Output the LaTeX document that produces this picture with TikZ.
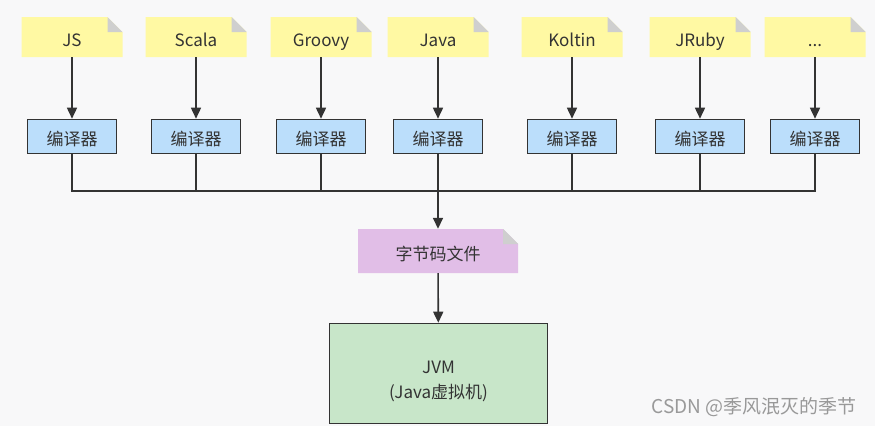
\documentclass[tikz,border=0pt]{standalone}
\usepackage{fontspec}
\setmainfont{Noto Sans CJK SC}
\usetikzlibrary{arrows.meta,positioning}

\definecolor{bgcol}{HTML}{F8F8F9}
\definecolor{inkcol}{HTML}{333333}
\definecolor{notecol}{HTML}{FFF9A3}
\definecolor{foldcol}{HTML}{CFCFCF}
\definecolor{compcol}{HTML}{BBDEFB}
\definecolor{bytecol}{HTML}{E1BEE7}
\definecolor{jvmcol}{HTML}{C8E6C9}

\newcommand{\moredots}{...}

\tikzset{
  notebox/.style={inner sep=0pt, minimum width=101pt, minimum height=40pt,
    text=inkcol, font=\fontsize{17}{20}\selectfont, text height=18pt, text depth=0pt,
    path picture={
      \fill[#1] (path picture bounding box.south west)
        -- (path picture bounding box.north west)
        -- ([xshift=-15pt]path picture bounding box.north east)
        -- ([yshift=-15pt]path picture bounding box.north east)
        -- (path picture bounding box.south east) -- cycle;
      \fill[foldcol] ([xshift=-15pt]path picture bounding box.north east)
        -- ([xshift=-15pt,yshift=-15pt]path picture bounding box.north east)
        -- ([yshift=-15pt]path picture bounding box.north east) -- cycle;
    }},
  notebox/.default=notecol,
  compbox/.style={draw=inkcol, line width=1.6pt, fill=compcol, text=inkcol,
    minimum width=89pt, minimum height=34pt, inner sep=0pt,
    font=\fontsize{17}{20}\selectfont, text height=18pt, text depth=0pt},
  jvmbox/.style={draw=inkcol, line width=1.6pt, fill=jvmcol, text=inkcol,
    minimum width=218pt, minimum height=100pt, inner sep=0pt,
    font=\fontsize{17}{25}\selectfont, text height=30pt, text depth=7pt},
  flow/.style={draw=inkcol, line width=1.6pt, -{Triangle[length=11pt,width=10pt]}},
  bus/.style={draw=inkcol, line width=1.6pt}
}

\begin{document}
\begin{tikzpicture}[x=1pt,y=1pt]
    \fill[bgcol] (0,0) rectangle (875,-426);
    \useasboundingbox (0,0) rectangle (875,-426);
    % languages and their compilers
    \foreach \n/\x/\t in {js/72/JS, scala/196/Scala, groovy/321/Groovy, java/438/Java,
        koltin/572/Koltin, jruby/700/JRuby, more/815/\moredots}{
      \node[notebox] (\n) at (\x,-37) {\t};
      \node[compbox] (\n c) at (\x,-136.5) {编译器};
      \coordinate (bus\n) at (\x,-191);
      \draw[flow] (\n) -- (\n c);
      \draw[bus] (\n c) -- (bus\n);
    }
    \draw[bus, line cap=rect] (busjs) -- (busmore);
    % bytecode and jvm
    \node[notebox=bytecol, minimum width=160pt, minimum height=44pt] (bytecode) at (438,-251) {字节码文件};
    \node[jvmbox] (jvm) at (438.5,-373.5) {\begin{tabular}{@{}c@{}}JVM\\(Java虚拟机)\end{tabular}};
    \draw[flow] (busjava) -- (bytecode);
    \draw[flow] (bytecode) -- (jvm);
    \node[text=gray!80, font=\fontsize{19}{22}\selectfont] (mark) at (754,-407) {CSDN @季风泯灭的季节};
\end{tikzpicture}
\end{document}
